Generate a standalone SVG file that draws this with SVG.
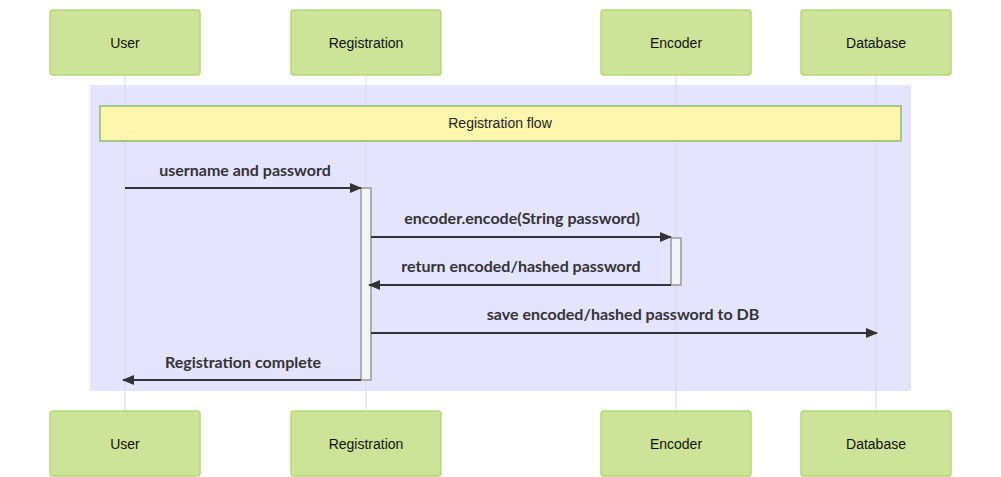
<svg xmlns="http://www.w3.org/2000/svg" width="1001" height="477" viewBox="0 0 1001 477">
<style>
.actor{fill:#cde498;stroke:#b3da74;stroke-width:1.5}
.actorText{font-family:"Liberation Sans",Arial,sans-serif;font-size:14px;fill:#111;text-anchor:middle}
.lifeline{stroke:#d8d8e0;stroke-width:1;fill:none}
.msg{stroke:#333;stroke-width:2;fill:none}
.msgText{font-family:Lato,"Open Sans",sans-serif;font-weight:bold;font-size:16px;fill:#333;text-anchor:middle}
.act{fill:#f4f4f4;stroke:#999;stroke-width:1.5}
.note{fill:#fff5ad;stroke:#a3c98a;stroke-width:2}
.noteText{font-family:"Liberation Sans",Arial,sans-serif;font-size:14px;fill:#222;text-anchor:middle}
</style>
<defs>
<marker id="arrow" viewBox="0 0 12 10" refX="11" refY="5" markerWidth="12" markerHeight="10" markerUnits="userSpaceOnUse" orient="auto">
<path d="M0,0 L12,5 L0,10 z" fill="#333"/>
</marker>
</defs>
<rect x="0" y="0" width="1001" height="477" fill="#fff"/>
<rect id="loop-rect" x="90" y="85" width="821" height="306" fill="#e4e4ff"/>
<g id="lifelines">
<line class="lifeline" x1="125" y1="75" x2="125" y2="411"/>
<line class="lifeline" x1="366" y1="75" x2="366" y2="411"/>
<line class="lifeline" x1="676" y1="75" x2="676" y2="411"/>
<line class="lifeline" x1="876" y1="75" x2="876" y2="411"/>
</g>
<g id="actor-user-top"><rect class="actor" x="50" y="10" width="150" height="65" rx="3"/><text class="actorText" x="125" y="48">User</text></g>
<g id="actor-registration-top"><rect class="actor" x="291" y="10" width="150" height="65" rx="3"/><text class="actorText" x="366" y="48">Registration</text></g>
<g id="actor-encoder-top"><rect class="actor" x="601" y="10" width="150" height="65" rx="3"/><text class="actorText" x="676" y="48">Encoder</text></g>
<g id="actor-database-top"><rect class="actor" x="801" y="10" width="150" height="65" rx="3"/><text class="actorText" x="876" y="48">Database</text></g>
<g id="actor-user-bottom"><rect class="actor" x="50" y="411" width="150" height="65" rx="3"/><text class="actorText" x="125" y="449">User</text></g>
<g id="actor-registration-bottom"><rect class="actor" x="291" y="411" width="150" height="65" rx="3"/><text class="actorText" x="366" y="449">Registration</text></g>
<g id="actor-encoder-bottom"><rect class="actor" x="601" y="411" width="150" height="65" rx="3"/><text class="actorText" x="676" y="449">Encoder</text></g>
<g id="actor-database-bottom"><rect class="actor" x="801" y="411" width="150" height="65" rx="3"/><text class="actorText" x="876" y="449">Database</text></g>
<g id="note-registration-flow"><rect class="note" x="100" y="106" width="801" height="35"/><text class="noteText" x="500" y="128">Registration flow</text></g>
<g id="activation-registration"><rect class="act" x="361" y="188" width="10" height="192"/></g>
<g id="activation-encoder"><rect class="act" x="671" y="238" width="10" height="47"/></g>
<g id="connectors">
<line class="msg" x1="125" y1="188" x2="361" y2="188" marker-end="url(#arrow)"/>
<line class="msg" x1="371" y1="237" x2="671" y2="237" marker-end="url(#arrow)"/>
<line class="msg" x1="671" y1="285" x2="369" y2="285" marker-end="url(#arrow)"/>
<line class="msg" x1="371" y1="333" x2="877" y2="333" marker-end="url(#arrow)"/>
<line class="msg" x1="361" y1="380" x2="123" y2="380" marker-end="url(#arrow)"/>
</g>
<g id="message-labels">
<text class="msgText" x="245" y="176">username and password</text>
<text class="msgText" x="522" y="224">encoder.encode(String password)</text>
<text class="msgText" x="521" y="272">return encoded/hashed password</text>
<text class="msgText" x="623" y="320">save encoded/hashed password to DB</text>
<text class="msgText" x="243" y="368">Registration complete</text>
</g>
</svg>
